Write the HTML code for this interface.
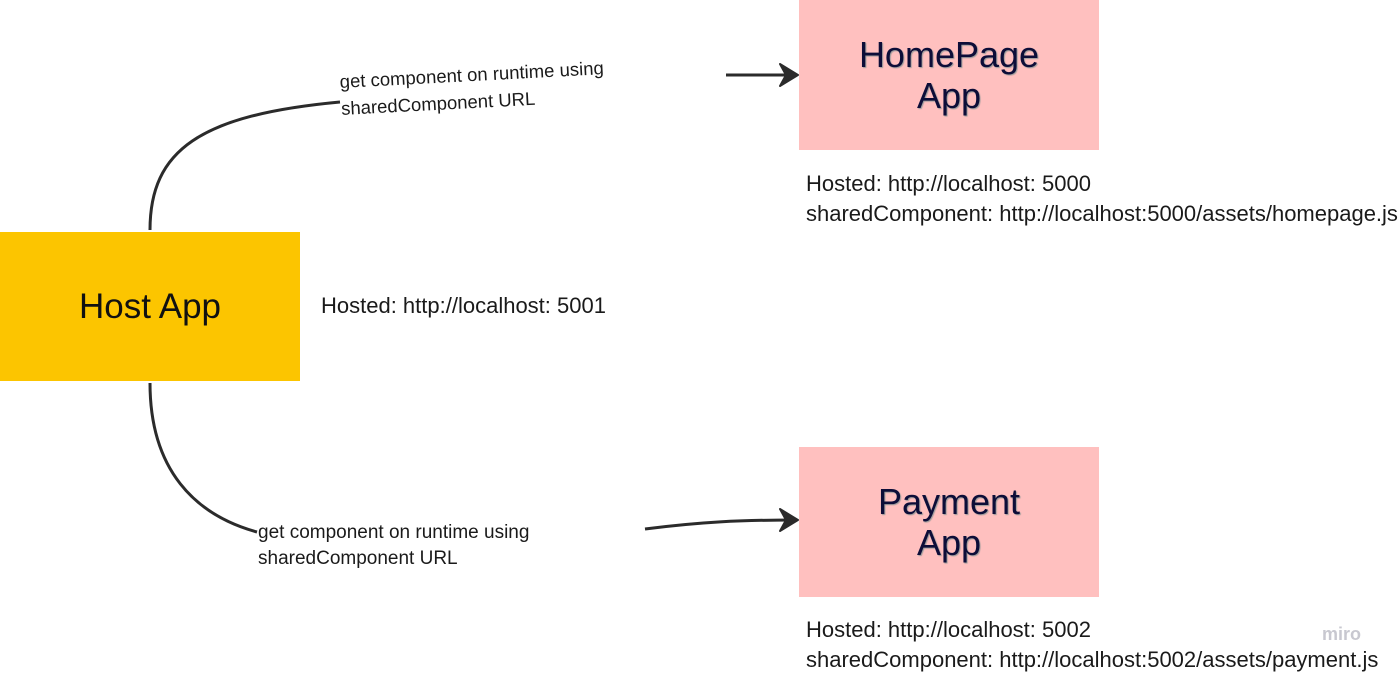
<!DOCTYPE html>
<html><head><style>
body{margin:0;width:1400px;height:674px;background:#fff;position:relative;overflow:hidden;font-family:"Liberation Sans",sans-serif;}
.box{position:absolute;display:flex;align-items:center;justify-content:center;text-align:center;}
.t{position:absolute;color:#1a1a1a;white-space:nowrap;}
</style></head><body>
<svg width="1400" height="674" style="position:absolute;left:0;top:0">
<defs><marker id="a" markerWidth="22" markerHeight="24" refX="18" refY="12" orient="auto" markerUnits="userSpaceOnUse"><path d="M2,1 L20,12 L2,23 L8,12Z" fill="#2b2b2b" stroke="#2b2b2b" stroke-width="2" stroke-linejoin="round"/></marker></defs>
<g stroke="#2b2b2b" stroke-width="3" fill="none">
<path d="M150,230 C150,150 200,115 340,102"/>
<path d="M726,75 L796,75" marker-end="url(#a)"/>
<path d="M150,383 C150,470 195,515 257,532"/>
<path d="M645,529 C700,522 740,520 796,520" marker-end="url(#a)"/>
</g>
</svg>
<div class="box" style="left:0;top:232px;width:300px;height:149px;background:#fcc500;font-size:35px;color:#111;">Host App</div>
<div class="box" style="left:799px;top:0;width:300px;height:150px;background:#ffc0bf;font-size:36px;color:#0d0d38;line-height:41px;text-shadow:1px 1px 1px #999;">HomePage<br>App</div>
<div class="box" style="left:799px;top:447px;width:300px;height:150px;background:#ffc0bf;font-size:36px;color:#0d0d38;line-height:41px;text-shadow:1px 1px 1px #999;">Payment<br>App</div>
<div class="t" style="left:339px;top:68px;font-size:18.5px;line-height:27px;transform:rotate(-3deg);transform-origin:left top;">get component on runtime using<br>sharedComponent URL</div>
<div class="t" style="left:258px;top:520px;font-size:19px;line-height:26px;">get component on runtime using<br>sharedComponent URL</div>
<div class="t" style="left:321px;top:293px;font-size:22px;">Hosted: http://localhost: 5001</div>
<div class="t" style="left:806px;top:169px;font-size:22px;line-height:30px;">Hosted: http://localhost: 5000<br>sharedComponent: http://localhost:5000/assets/homepage.js</div>
<div class="t" style="left:806px;top:615px;font-size:22px;line-height:30px;">Hosted: http://localhost: 5002<br>sharedComponent: http://localhost:5002/assets/payment.js</div>
<div class="t" style="left:1322px;top:624px;font-size:18px;color:#c8c8d0;font-weight:bold;">miro</div>
</body></html>
